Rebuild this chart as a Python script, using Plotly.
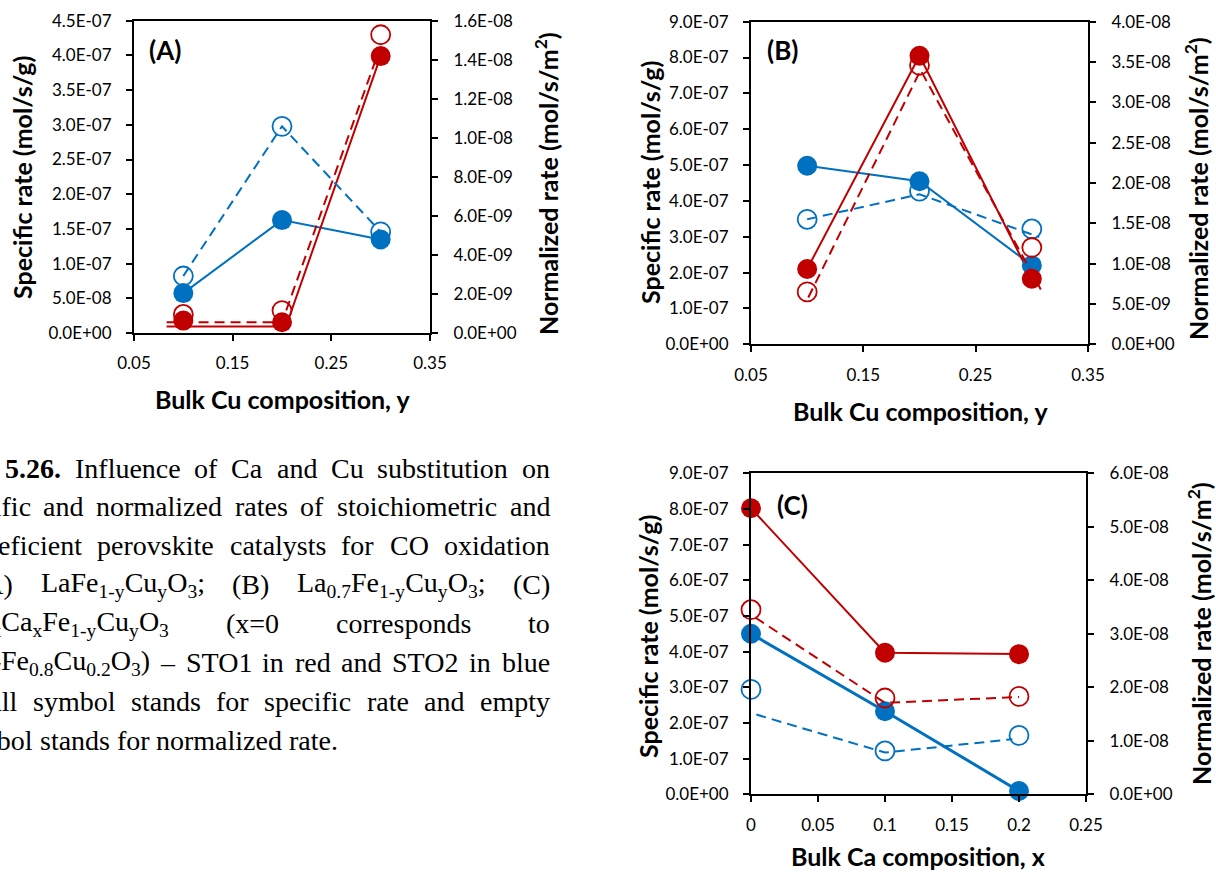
import re
import plotly.graph_objects as go

W, H = 1216, 872
RED = "#C00000"
BLUE = "#0070C0"

# ---------------- data ----------------
# Panel A : LaFe1-yCuyO3
a_x = [0.1, 0.2, 0.3]
a_red_specific = [1.79e-8, 1.55e-8, 3.99e-7]
a_red_normalized = [9.5e-10, 1.15e-9, 1.528e-8]
a_blue_specific = [5.75e-8, 1.627e-7, 1.347e-7]
a_blue_normalized = [2.92e-9, 1.059e-8, 5.18e-9]
a_red_solid_x = [0.083, 0.204, 0.3]
a_red_solid_y = [9.2e-9, 9.2e-9, 3.99e-7]
a_red_dash_x = [0.083, 0.2, 0.295]
a_red_dash_y = [5.5e-10, 5.5e-10, 1.40e-8]

# Panel B : La0.7Fe1-yCuyO3
b_x = [0.1, 0.2, 0.3]
b_red_specific = [2.1e-7, 8.05e-7, 1.83e-7]
b_red_normalized = [6.5e-9, 3.46e-8, 1.2e-8]
b_blue_specific = [4.98e-7, 4.55e-7, 2.2e-7]
b_blue_normalized = [1.55e-8, 1.9e-8, 1.43e-8]
b_red_dash_x = [0.101, 0.201, 0.308]
b_red_dash_y = [5.8e-9, 3.4e-8, 6.8e-9]
b_blue_dash_x = [0.1, 0.2, 0.3065]
b_blue_dash_y = [1.55e-8, 1.86e-8, 1.33e-8]

# Panel C : Ca substitution
c_x = [0.0, 0.1, 0.2]
c_red_specific = [8.02e-7, 3.97e-7, 3.93e-7]
c_red_normalized = [3.45e-8, 1.80e-8, 1.83e-8]
c_blue_specific = [4.5e-7, 2.33e-7, 9.3e-9]
c_blue_normalized = [1.96e-8, 8.1e-9, 1.1e-8]
c_red_dash_x = [0.0034, 0.1, 0.2]
c_red_dash_y = [3.3e-8, 1.71e-8, 1.82e-8]
c_blue_dash_x = [0.004, 0.1, 0.195]
c_blue_dash_y = [1.49e-8, 7.8e-9, 1.03e-8]

# tick values / labels
xa_ticks = [0.05, 0.15, 0.25, 0.35]
xa_labels = ["0.05", "0.15", "0.25", "0.35"]
xc_ticks = [0, 0.05, 0.1, 0.15, 0.2, 0.25]
xc_labels = ["0", "0.05", "0.1", "0.15", "0.2", "0.25"]
ya_left = [i * 5e-8 for i in range(10)]
ya_right = [i * 2e-9 for i in range(9)]
yb_left = [i * 1e-7 for i in range(10)]
yb_right = [i * 5e-9 for i in range(9)]
yc_left = [i * 1e-7 for i in range(10)]
yc_right = [i * 1e-8 for i in range(7)]

# caption text (word lists)
caption_words = [
    ["<b>Figure</b>", "<b>5.26.</b>", "Influence", "of", "Ca", "and", "Cu", "substitution", "on"],
    ["specific", "and", "normalized", "rates", "of", "stoichiometric", "and"],
    ["A-site", "deficient", "perovskite", "catalysts", "for", "CO", "oxidation"],
    ["(A)", "LaFe<sub>1-y</sub>Cu<sub>y</sub>O<sub>3</sub>;", "(B)",
     "La<sub>0.7</sub>Fe<sub>1-y</sub>Cu<sub>y</sub>O<sub>3</sub>;", "(C)"],
    ["La<sub>0.7-x</sub>Ca<sub>x</sub>Fe<sub>1-y</sub>Cu<sub>y</sub>O<sub>3</sub>", "(x=0", "corresponds", "to"],
    ["La<sub>0.7</sub>Fe<sub>0.8</sub>Cu<sub>0.2</sub>O<sub>3</sub>)", "\u2013", "STO1", "in", "red", "and",
     "STO2", "in", "blue"],
    ["(full", "symbol", "stands", "for", "specific", "rate", "and", "empty"],
    ["symbol", "stands", "for", "normalized", "rate."],
]


def elabels(vals):
    return [format(v, ".1E") for v in vals]


# ---------------- layout geometry (pixels) ----------------
def px_x(p):
    return p / W


def px_y(p):
    return 1 - p / H


A_box = (134, 430, 20.7, 333)
B_box = (751, 1088, 21.7, 344.3)
C_box = (751, 1086, 473.3, 794.3)

TICKFONT = dict(family="Lato", size=17, color="black")


def xaxis(box, ticks, labels, rng, anchor):
    return dict(domain=[px_x(box[0]), px_x(box[1])], range=rng, anchor=anchor,
                tickvals=ticks, ticktext=labels, showline=True, linecolor="black",
                linewidth=2, mirror=True, ticks="outside", ticklen=6, tickwidth=2,
                tickcolor="black", showgrid=False, zeroline=False, tickfont=TICKFONT,
                ticklabelstandoff=8, automargin=False)


def yaxis(box, ticks, rng, anchor, side="left", overlaying=None):
    d = dict(domain=[px_y(box[3]), px_y(box[2])], range=rng, anchor=anchor,
             tickvals=ticks, ticktext=elabels(ticks), showline=True, linecolor="black",
             linewidth=2, ticks="outside", ticklen=6, tickwidth=2, tickcolor="black",
             showgrid=False, zeroline=False, tickfont=TICKFONT, side=side,
             ticklabelstandoff=(12 if side == "right" else 11), automargin=False)
    if overlaying:
        d["overlaying"] = overlaying
    return d


fig = go.Figure()


def line(x, y, color, dash, xa, ya, width=2):
    fig.add_trace(go.Scatter(x=x, y=y, mode="lines", xaxis=xa, yaxis=ya,
                             line=dict(color=color, width=width, dash=dash),
                             cliponaxis=False, showlegend=False, hoverinfo="skip"))


def markers(x, y, color, filled, xa, ya):
    if filled:
        m = dict(size=20, color=color, line=dict(width=0))
    else:
        m = dict(size=19, color="rgba(0,0,0,0)", line=dict(width=1.8, color=color))
    fig.add_trace(go.Scatter(x=x, y=y, mode="markers", xaxis=xa, yaxis=ya, marker=m,
                             cliponaxis=False, showlegend=False))


DASH = "10px,6px"

# Panel A
line(a_x, a_blue_normalized, BLUE, DASH, "x", "y2")
line(a_x, a_blue_specific, BLUE, "solid", "x", "y")
line(a_red_dash_x, a_red_dash_y, RED, DASH, "x", "y2")
line(a_red_solid_x, a_red_solid_y, RED, "solid", "x", "y")
markers(a_x, a_blue_normalized, BLUE, False, "x", "y2")
markers(a_x, a_red_normalized, RED, False, "x", "y2")
markers(a_x, a_blue_specific, BLUE, True, "x", "y")
markers(a_x, a_red_specific, RED, True, "x", "y")

# Panel B
line(b_blue_dash_x, b_blue_dash_y, BLUE, DASH, "x2", "y4")
line(b_x, b_blue_specific, BLUE, "solid", "x2", "y3")
line(b_red_dash_x, b_red_dash_y, RED, DASH, "x2", "y4")
line(b_x, b_red_specific, RED, "solid", "x2", "y3")
markers(b_x, b_blue_normalized, BLUE, False, "x2", "y4")
markers(b_x, b_red_normalized, RED, False, "x2", "y4")
markers(b_x, b_blue_specific, BLUE, True, "x2", "y3")
markers(b_x, b_red_specific, RED, True, "x2", "y3")

# Panel C
line(c_blue_dash_x, c_blue_dash_y, BLUE, DASH, "x3", "y6")
line(c_red_dash_x, c_red_dash_y, RED, DASH, "x3", "y6")
line(c_x, c_red_specific, RED, "solid", "x3", "y5")
line(c_x, c_blue_specific, BLUE, "solid", "x3", "y5", width=3)
markers(c_x, c_blue_normalized, BLUE, False, "x3", "y6")
markers(c_x, c_red_normalized, RED, False, "x3", "y6")
markers(c_x, c_red_specific, RED, True, "x3", "y5")
markers(c_x, c_blue_specific, BLUE, True, "x3", "y5")

annotations = []


def ann(text, x, y, size, angle=0, bold=True, xanchor="center", family="Lato", color="black"):
    annotations.append(dict(text=("<b>%s</b>" % text) if bold else text,
                            x=px_x(x), y=px_y(y), xref="paper", yref="paper",
                            xanchor=xanchor, yanchor="middle", showarrow=False,
                            borderpad=0, borderwidth=0,
                            textangle=angle, font=dict(family=family, size=size, color=color)))


SPEC = "Specific rate (mol/s/g)"
NORM = "Normalized rate (mol/s/m<sup>2</sup>)"
TS = 25
PL = 26
# panel A
ann("(A)", 165, 50, PL)
ann(SPEC, 22, 178, TS, -90)
ann(NORM, 546, 184, TS, -90)
ann("Bulk Cu composition, y", 282, 399, TS)
# panel B
ann("(B)", 782, 50, PL)
ann(SPEC, 650, 183, TS, -90)
ann(NORM, 1196, 189, TS, -90)
ann("Bulk Cu composition, y", 920, 411, TS)
# panel C
ann("(C)", 792, 505, PL)
ann(SPEC, 648, 637, TS, -90)
ann(NORM, 1199, 634, TS, -90)
ann("Bulk Ca composition, x", 918, 856, TS)

# ---------------- caption: justified text, word by word ----------------
# Times / Liberation Serif advance widths (1/1000 em)
TR = {' ': 250, '(': 333, ')': 333, ',': 250, '-': 333, '.': 250, '/': 278, ';': 278,
      '=': 564, '\u2013': 500,
      '0': 500, '1': 500, '2': 500, '3': 500, '4': 500, '5': 500, '6': 500, '7': 500,
      '8': 500, '9': 500,
      'A': 722, 'B': 667, 'C': 667, 'D': 722, 'E': 611, 'F': 556, 'I': 333, 'L': 611,
      'O': 722, 'S': 556, 'T': 611,
      'a': 444, 'b': 500, 'c': 444, 'd': 500, 'e': 444, 'f': 333, 'g': 500, 'h': 500,
      'i': 278, 'k': 500, 'l': 278, 'm': 778, 'n': 500, 'o': 500, 'p': 500, 'r': 333,
      's': 389, 't': 278, 'u': 500, 'v': 500, 'w': 722, 'x': 500, 'y': 500, 'z': 444}
TB = {'F': 611, 'i': 278, 'g': 500, 'u': 556, 'r': 444, 'e': 444, '.': 250}


def parse(word):
    out, style = [], "n"
    for tok in re.split(r"(</?b>|</?sub>)", word):
        if tok == "<b>":
            style = "b"
        elif tok == "<sub>":
            style = "sub"
        elif tok in ("</b>", "</sub>"):
            style = "n"
        elif tok:
            out.extend((c, style) for c in tok)
    return out


def cw(c, style, size):
    if style == "b":
        return TB.get(c, TR.get(c, 500)) * size / 1000
    if style == "sub":
        return TR.get(c, 500) * size * 0.7 / 1000
    return TR.get(c, 500) * size / 1000


def word_width(word, size, upto=None):
    chars = parse(word)
    if upto is not None:
        chars = chars[:upto]
    return sum(cw(c, s, size) for c, s in chars)


CAP_SIZE = 28
CAP_FONT = "Liberation Serif"
CAP_RIGHT = 550
CAP_TOP = 468
CAP_STEP = 38.9
# (word index, char index, x of that char, justified)
cap_anchor = [(1, 0, 5, True), (0, 5, 1, True), (1, 1, -2, True), (0, 2, 4, True),
              (0, 7, 1, True), (0, 5, 1, True), (0, 3, 2, True), (0, 3, -3, False)]

for i, words in enumerate(caption_words):
    wi, ci, ax, just = cap_anchor[i]
    yc = CAP_TOP + CAP_STEP * i
    widths = [word_width(w, CAP_SIZE) for w in words]
    sp = TR[" "] * CAP_SIZE / 1000
    first_left = ax - word_width(words[wi], CAP_SIZE, ci)
    if just:
        nat = sum(widths[wi:]) + sp * (len(words) - 1 - wi)
        gap = sp + (CAP_RIGHT - first_left - nat) / (len(words) - 1 - wi)
    else:
        gap = sp
    xs = {wi: first_left}
    for j in range(wi + 1, len(words)):
        xs[j] = xs[j - 1] + widths[j - 1] + gap
    for j in range(wi - 1, -1, -1):
        xs[j] = xs[j + 1] - gap - widths[j]
    for j, w in enumerate(words):
        ann(w, xs[j] + widths[j] / 2, yc, CAP_SIZE, bold=False, xanchor="center",
            family=CAP_FONT)

fig.update_layout(
    width=W, height=H, margin=dict(l=0, r=0, t=0, b=0, autoexpand=False),
    paper_bgcolor="white", plot_bgcolor="white", showlegend=False,
    xaxis=xaxis(A_box, xa_ticks, xa_labels, [0.05, 0.35], "y"),
    yaxis=yaxis(A_box, ya_left, [0, 4.5e-7], "x"),
    yaxis2=yaxis(A_box, ya_right, [0, 1.6e-8], "x", side="right", overlaying="y"),
    xaxis2=xaxis(B_box, xa_ticks, xa_labels, [0.05, 0.35], "y3"),
    yaxis3=yaxis(B_box, yb_left, [0, 9e-7], "x2"),
    yaxis4=yaxis(B_box, yb_right, [0, 4e-8], "x2", side="right", overlaying="y3"),
    xaxis3=xaxis(C_box, xc_ticks, xc_labels, [0, 0.25], "y5"),
    yaxis5=yaxis(C_box, yc_left, [0, 9e-7], "x3"),
    yaxis6=yaxis(C_box, yc_right, [0, 6e-8], "x3", side="right", overlaying="y5"),
    annotations=annotations,
)

fig.write_html("out.html", config={"displayModeBar": False},
               post_script="document.body.style.margin='0';")
